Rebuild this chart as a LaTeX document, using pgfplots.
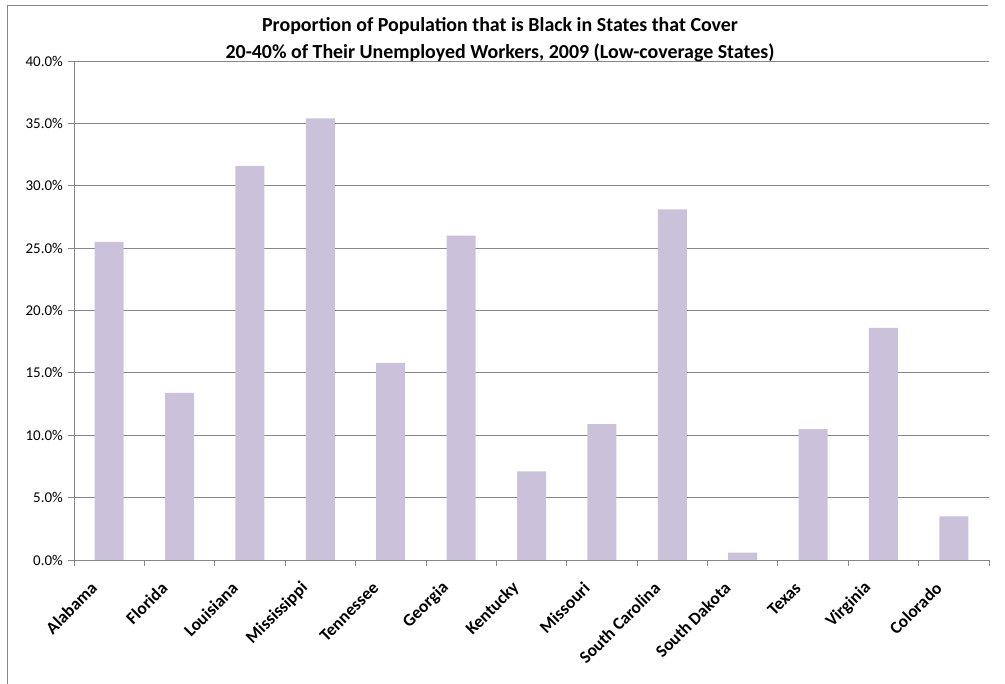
\documentclass[border=0pt]{standalone}
\usepackage{pgfplots}
\pgfplotsset{compat=1.18}
\usepackage{fontspec}
\setmainfont{Carlito}
\definecolor{barpurple}{RGB}{204,193,218}
\definecolor{gridgray}{RGB}{134,134,134}
\definecolor{framegray}{RGB}{134,134,134}
\begin{document}
\begin{tikzpicture}[x=1bp,y=1bp]
\path[use as bounding box] (0,0) rectangle (1005,684);
% chart frame (left and top edges)
\draw[framegray, line width=1bp] (7,0) -- (7,678) -- (988,678);
\begin{axis}[
  at={(74bp,124bp)}, anchor=south west,
  scale only axis,
  width=915bp, height=499bp,
  xmin=0.5, xmax=13.5,
  ymin=0, ymax=40,
  axis line style={gridgray, line width=0.8bp},
  axis x line*=bottom, axis y line*=left,
  ytick={0,5,...,40},
  yticklabels={0.0\%,5.0\%,10.0\%,15.0\%,20.0\%,25.0\%,30.0\%,35.0\%,40.0\%},
  ymajorgrids,
  grid style={gridgray, line width=0.8bp},
  xtick={1,...,13},
  xticklabels={Alabama,Florida,Louisiana,Mississippi,Tennessee,Georgia,Kentucky,Missouri,South Carolina,South Dakota,Texas,Virginia,Colorado},
  minor xtick={0.5,1.5,...,13.5},
  tick align=outside,
  major tick length=6bp,
  minor tick length=6bp,
  tick style={gridgray, line width=0.8bp},
  major x tick style={draw=none},
  every y tick label/.append style={font=\fontsize{15}{17}\selectfont, anchor=east, inner sep=5bp},
  every x tick label/.append style={font=\bfseries\fontsize{17.5}{19}\selectfont, rotate=45, anchor=east, xshift=-21bp, yshift=-3bp},
  /pgf/number format/assume math mode=true,
  clip=false,
]
\addplot[ybar, bar width=29bp, fill=barpurple, draw=none] coordinates {
  (1,25.5) (2,13.4) (3,31.6) (4,35.4) (5,15.8) (6,26.0) (7,7.1)
  (8,10.9) (9,28.1) (10,0.6) (11,10.5) (12,18.6) (13,3.5)
};
\end{axis}
% two-line chart title
\node[font=\bfseries\fontsize{20}{24}\selectfont, anchor=base] at (500,652)
  {Proportion of Population that is Black in States that Cover};
\node[font=\bfseries\fontsize{20}{24}\selectfont, anchor=base] at (500,625.5)
  {20-40\% of Their Unemployed Workers, 2009 (Low-coverage States)};
\end{tikzpicture}
\end{document}
